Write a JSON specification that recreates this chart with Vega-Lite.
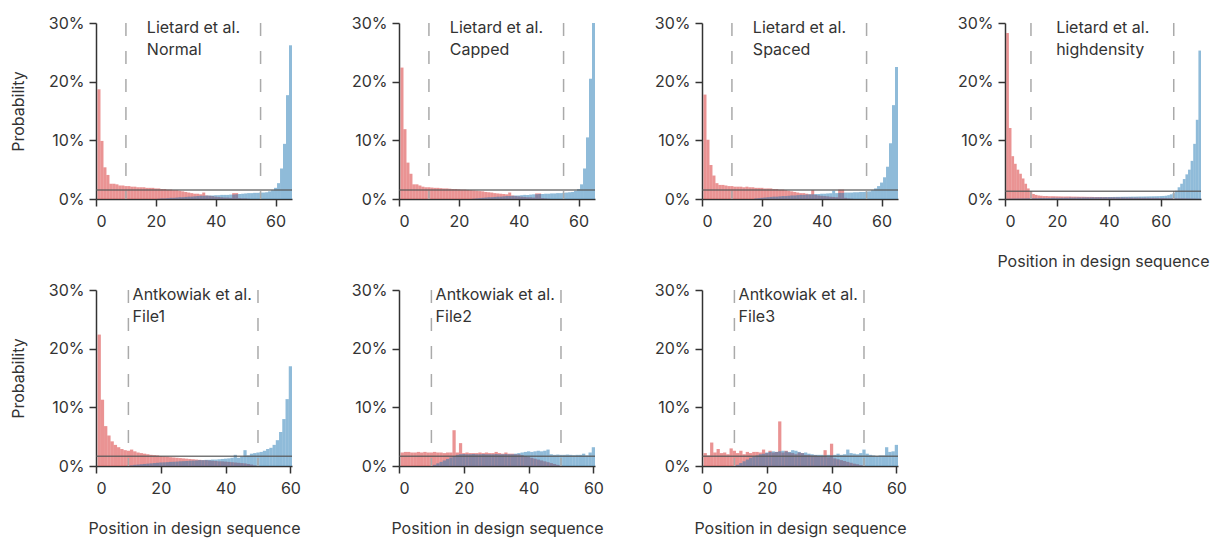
{
"$schema": "https://vega.github.io/schema/vega-lite/v6.json",
"padding": {"left": 10, "top": 15, "right": 5, "bottom": 5},
"background": "white",
"config": {"font": "Inter", "view": {"stroke": null},
 "scale": {"continuousPadding": 0},
 "axis": {"labelFont": "Inter", "titleFont": "Inter", "labelFontSize": 16, "titleFontSize": 16, "titleFontWeight": "normal", "labelColor": "#333", "titleColor": "#333", "domainColor": "#333", "tickColor": "#333", "domainWidth": 1.5, "tickWidth": 1.5, "tickSize": 7, "grid": false},
 "axisY": {"titlePadding": 22, "labelPadding": 5},
 "axisX": {"titlePadding": 24, "labelPadding": 7}},
"datasets": {"h": [
{"p":"N","x":1,"r":18.7,"b":0},{"p":"N","x":2,"r":9.9,"b":0},{"p":"N","x":3,"r":5.4,"b":0},{"p":"N","x":4,"r":4.1,"b":0},{"p":"N","x":5,"r":2.6,"b":0},{"p":"N","x":6,"r":2.6,"b":0},{"p":"N","x":7,"r":2.5,"b":0},{"p":"N","x":8,"r":2.3,"b":0},{"p":"N","x":9,"r":2.3,"b":0},{"p":"N","x":10,"r":2.2,"b":0},
{"p":"N","x":11,"r":2.2,"b":0},{"p":"N","x":12,"r":2.1,"b":0},{"p":"N","x":13,"r":2.1,"b":0},{"p":"N","x":14,"r":2.0,"b":0},{"p":"N","x":15,"r":2.0,"b":0},{"p":"N","x":16,"r":2.0,"b":0},{"p":"N","x":17,"r":1.9,"b":0},{"p":"N","x":18,"r":1.9,"b":0},{"p":"N","x":19,"r":1.9,"b":0},{"p":"N","x":20,"r":1.8,"b":0},
{"p":"N","x":21,"r":1.8,"b":0.05},{"p":"N","x":22,"r":1.7,"b":0.1},{"p":"N","x":23,"r":1.7,"b":0.1},{"p":"N","x":24,"r":1.6,"b":0.15},{"p":"N","x":25,"r":1.6,"b":0.2},{"p":"N","x":26,"r":1.5,"b":0.2},{"p":"N","x":27,"r":1.5,"b":0.25},{"p":"N","x":28,"r":1.4,"b":0.3},{"p":"N","x":29,"r":1.3,"b":0.3},{"p":"N","x":30,"r":1.2,"b":0.35},
{"p":"N","x":31,"r":1.1,"b":0.4},{"p":"N","x":32,"r":1.0,"b":0.4},{"p":"N","x":33,"r":0.9,"b":0.45},{"p":"N","x":34,"r":0.9,"b":0.5},{"p":"N","x":35,"r":0.8,"b":0.55},{"p":"N","x":36,"r":1.1,"b":0.55},{"p":"N","x":37,"r":0.6,"b":0.6},{"p":"N","x":38,"r":0.55,"b":0.6},{"p":"N","x":39,"r":0.5,"b":0.6},{"p":"N","x":40,"r":0.4,"b":0.65},
{"p":"N","x":41,"r":0.35,"b":0.65},{"p":"N","x":42,"r":0.3,"b":0.7},{"p":"N","x":43,"r":0.25,"b":0.7},{"p":"N","x":44,"r":0.25,"b":0.7},{"p":"N","x":45,"r":0.2,"b":0.75},{"p":"N","x":46,"r":1.0,"b":0.75},{"p":"N","x":47,"r":1.0,"b":0.8},{"p":"N","x":48,"r":0.15,"b":0.85},{"p":"N","x":49,"r":0.1,"b":0.9},{"p":"N","x":50,"r":0.1,"b":0.95},
{"p":"N","x":51,"r":0.05,"b":1.0},{"p":"N","x":52,"r":0,"b":1.0},{"p":"N","x":53,"r":0,"b":1.05},{"p":"N","x":54,"r":0,"b":1.05},{"p":"N","x":55,"r":0,"b":1.1},{"p":"N","x":56,"r":0,"b":1.1},{"p":"N","x":57,"r":0,"b":1.15},{"p":"N","x":58,"r":0,"b":1.3},{"p":"N","x":59,"r":0,"b":1.5},{"p":"N","x":60,"r":0,"b":1.9},
{"p":"N","x":61,"r":0,"b":2.7},{"p":"N","x":62,"r":0,"b":5.2},{"p":"N","x":63,"r":0,"b":9.4},{"p":"N","x":64,"r":0,"b":17.7},{"p":"N","x":65,"r":0,"b":26.2},

{"p":"C","x":1,"r":22.4,"b":0},{"p":"C","x":2,"r":11.9,"b":0},{"p":"C","x":3,"r":6.2,"b":0},{"p":"C","x":4,"r":4.3,"b":0},{"p":"C","x":5,"r":2.5,"b":0},{"p":"C","x":6,"r":2.5,"b":0},{"p":"C","x":7,"r":2.3,"b":0},{"p":"C","x":8,"r":2.1,"b":0},{"p":"C","x":9,"r":2.0,"b":0},{"p":"C","x":10,"r":2.0,"b":0},
{"p":"C","x":11,"r":1.95,"b":0},{"p":"C","x":12,"r":1.9,"b":0},{"p":"C","x":13,"r":1.9,"b":0},{"p":"C","x":14,"r":1.85,"b":0},{"p":"C","x":15,"r":1.8,"b":0},{"p":"C","x":16,"r":1.8,"b":0},{"p":"C","x":17,"r":1.75,"b":0},{"p":"C","x":18,"r":1.7,"b":0},{"p":"C","x":19,"r":1.7,"b":0},{"p":"C","x":20,"r":1.65,"b":0},
{"p":"C","x":21,"r":1.6,"b":0},{"p":"C","x":22,"r":1.6,"b":0},{"p":"C","x":23,"r":1.55,"b":0},{"p":"C","x":24,"r":1.5,"b":0},{"p":"C","x":25,"r":1.45,"b":0.05},{"p":"C","x":26,"r":1.4,"b":0.1},{"p":"C","x":27,"r":1.35,"b":0.15},{"p":"C","x":28,"r":1.3,"b":0.2},{"p":"C","x":29,"r":1.2,"b":0.25},{"p":"C","x":30,"r":1.15,"b":0.3},
{"p":"C","x":31,"r":1.1,"b":0.3},{"p":"C","x":32,"r":1.0,"b":0.35},{"p":"C","x":33,"r":0.95,"b":0.4},{"p":"C","x":34,"r":0.9,"b":0.4},{"p":"C","x":35,"r":0.85,"b":0.45},{"p":"C","x":36,"r":0.8,"b":0.5},{"p":"C","x":37,"r":1.1,"b":0.5},{"p":"C","x":38,"r":0.6,"b":0.55},{"p":"C","x":39,"r":0.5,"b":0.6},{"p":"C","x":40,"r":0.45,"b":0.6},
{"p":"C","x":41,"r":0.4,"b":0.65},{"p":"C","x":42,"r":0.35,"b":0.7},{"p":"C","x":43,"r":0.3,"b":0.7},{"p":"C","x":44,"r":0.3,"b":0.75},{"p":"C","x":45,"r":0.25,"b":0.8},{"p":"C","x":46,"r":0.95,"b":0.8},{"p":"C","x":47,"r":0.95,"b":0.85},{"p":"C","x":48,"r":0.15,"b":0.85},{"p":"C","x":49,"r":0.1,"b":0.9},{"p":"C","x":50,"r":0.05,"b":0.9},
{"p":"C","x":51,"r":0,"b":0.95},{"p":"C","x":52,"r":0,"b":0.95},{"p":"C","x":53,"r":0,"b":1.0},{"p":"C","x":54,"r":0,"b":1.0},{"p":"C","x":55,"r":0,"b":1.05},{"p":"C","x":56,"r":0,"b":1.1},{"p":"C","x":57,"r":0,"b":1.15},{"p":"C","x":58,"r":0,"b":1.2},{"p":"C","x":59,"r":0,"b":1.4},{"p":"C","x":60,"r":0,"b":1.7},
{"p":"C","x":61,"r":0,"b":2.5},{"p":"C","x":62,"r":0,"b":5.2},{"p":"C","x":63,"r":0,"b":10.5},{"p":"C","x":64,"r":0,"b":20.5},{"p":"C","x":65,"r":0,"b":30.0},

{"p":"S","x":1,"r":17.8,"b":0},{"p":"S","x":2,"r":10.1,"b":0},{"p":"S","x":3,"r":5.8,"b":0},{"p":"S","x":4,"r":4.0,"b":0},{"p":"S","x":5,"r":2.7,"b":0},{"p":"S","x":6,"r":2.4,"b":0},{"p":"S","x":7,"r":2.4,"b":0},{"p":"S","x":8,"r":2.3,"b":0},{"p":"S","x":9,"r":2.2,"b":0},{"p":"S","x":10,"r":2.2,"b":0},
{"p":"S","x":11,"r":2.1,"b":0},{"p":"S","x":12,"r":2.1,"b":0},{"p":"S","x":13,"r":2.1,"b":0},{"p":"S","x":14,"r":2.0,"b":0},{"p":"S","x":15,"r":2.1,"b":0},{"p":"S","x":16,"r":2.0,"b":0},{"p":"S","x":17,"r":2.0,"b":0},{"p":"S","x":18,"r":1.9,"b":0.1},{"p":"S","x":19,"r":1.9,"b":0.15},{"p":"S","x":20,"r":1.9,"b":0.2},
{"p":"S","x":21,"r":1.8,"b":0.25},{"p":"S","x":22,"r":1.8,"b":0.3},{"p":"S","x":23,"r":1.8,"b":0.35},{"p":"S","x":24,"r":1.7,"b":0.4},{"p":"S","x":25,"r":1.7,"b":0.4},{"p":"S","x":26,"r":1.6,"b":0.45},{"p":"S","x":27,"r":1.6,"b":0.5},{"p":"S","x":28,"r":1.5,"b":0.5},{"p":"S","x":29,"r":1.4,"b":0.55},{"p":"S","x":30,"r":1.3,"b":0.6},
{"p":"S","x":31,"r":1.2,"b":0.6},{"p":"S","x":32,"r":1.1,"b":0.65},{"p":"S","x":33,"r":1.0,"b":0.7},{"p":"S","x":34,"r":1.0,"b":0.7},{"p":"S","x":35,"r":0.9,"b":0.75},{"p":"S","x":36,"r":0.8,"b":0.8},{"p":"S","x":37,"r":1.5,"b":0.8},{"p":"S","x":38,"r":0.7,"b":0.85},{"p":"S","x":39,"r":0.6,"b":0.85},{"p":"S","x":40,"r":0.55,"b":0.9},
{"p":"S","x":41,"r":0.5,"b":0.9},{"p":"S","x":42,"r":0.45,"b":0.95},{"p":"S","x":43,"r":0.4,"b":1.0},{"p":"S","x":44,"r":0.35,"b":1.4},{"p":"S","x":45,"r":0.3,"b":1.0},{"p":"S","x":46,"r":1.6,"b":1.05},{"p":"S","x":47,"r":1.6,"b":1.05},{"p":"S","x":48,"r":0.2,"b":1.1},{"p":"S","x":49,"r":0.1,"b":1.1},{"p":"S","x":50,"r":0.05,"b":1.1},
{"p":"S","x":51,"r":0,"b":1.15},{"p":"S","x":52,"r":0,"b":1.15},{"p":"S","x":53,"r":0,"b":1.2},{"p":"S","x":54,"r":0,"b":1.2},{"p":"S","x":55,"r":0,"b":1.25},{"p":"S","x":56,"r":0,"b":1.3},{"p":"S","x":57,"r":0,"b":1.5},{"p":"S","x":58,"r":0,"b":1.8},{"p":"S","x":59,"r":0,"b":2.2},{"p":"S","x":60,"r":0,"b":2.8},
{"p":"S","x":61,"r":0,"b":3.7},{"p":"S","x":62,"r":0,"b":5.5},{"p":"S","x":63,"r":0,"b":9.5},{"p":"S","x":64,"r":0,"b":16.0},{"p":"S","x":65,"r":0,"b":22.5},

{"p":"H","x":1,"r":28.3,"b":0.05},{"p":"H","x":2,"r":12.1,"b":0.06},{"p":"H","x":3,"r":7.3,"b":0.07},{"p":"H","x":4,"r":6.0,"b":0.08},{"p":"H","x":5,"r":5.0,"b":0.09},{"p":"H","x":6,"r":4.3,"b":0.1},{"p":"H","x":7,"r":3.5,"b":0.1},{"p":"H","x":8,"r":2.6,"b":0.11},{"p":"H","x":9,"r":1.8,"b":0.12},{"p":"H","x":10,"r":1.2,"b":0.13},
{"p":"H","x":11,"r":0.85,"b":0.14},{"p":"H","x":12,"r":0.7,"b":0.15},{"p":"H","x":13,"r":0.6,"b":0.15},{"p":"H","x":14,"r":0.55,"b":0.16},{"p":"H","x":15,"r":0.5,"b":0.17},{"p":"H","x":16,"r":0.5,"b":0.18},{"p":"H","x":17,"r":0.48,"b":0.18},{"p":"H","x":18,"r":0.47,"b":0.19},{"p":"H","x":19,"r":0.46,"b":0.2},{"p":"H","x":20,"r":0.45,"b":0.2},
{"p":"H","x":21,"r":0.44,"b":0.21},{"p":"H","x":22,"r":0.43,"b":0.22},{"p":"H","x":23,"r":0.42,"b":0.22},{"p":"H","x":24,"r":0.42,"b":0.23},{"p":"H","x":25,"r":0.41,"b":0.24},{"p":"H","x":26,"r":0.4,"b":0.24},{"p":"H","x":27,"r":0.4,"b":0.25},{"p":"H","x":28,"r":0.39,"b":0.26},{"p":"H","x":29,"r":0.38,"b":0.26},{"p":"H","x":30,"r":0.38,"b":0.27},
{"p":"H","x":31,"r":0.37,"b":0.28},{"p":"H","x":32,"r":0.36,"b":0.28},{"p":"H","x":33,"r":0.36,"b":0.29},{"p":"H","x":34,"r":0.35,"b":0.3},{"p":"H","x":35,"r":0.34,"b":0.3},{"p":"H","x":36,"r":0.34,"b":0.31},{"p":"H","x":37,"r":0.33,"b":0.32},{"p":"H","x":38,"r":0.32,"b":0.32},{"p":"H","x":39,"r":0.32,"b":0.33},{"p":"H","x":40,"r":0.31,"b":0.34},
{"p":"H","x":41,"r":0.3,"b":0.34},{"p":"H","x":42,"r":0.3,"b":0.35},{"p":"H","x":43,"r":0.29,"b":0.36},{"p":"H","x":44,"r":0.28,"b":0.36},{"p":"H","x":45,"r":0.28,"b":0.37},{"p":"H","x":46,"r":0.27,"b":0.38},{"p":"H","x":47,"r":0.26,"b":0.38},{"p":"H","x":48,"r":0.26,"b":0.39},{"p":"H","x":49,"r":0.25,"b":0.4},{"p":"H","x":50,"r":0.24,"b":0.4},
{"p":"H","x":51,"r":0.24,"b":0.41},{"p":"H","x":52,"r":0.23,"b":0.42},{"p":"H","x":53,"r":0.22,"b":0.42},{"p":"H","x":54,"r":0.22,"b":0.43},{"p":"H","x":55,"r":0.21,"b":0.44},{"p":"H","x":56,"r":0.2,"b":0.45},{"p":"H","x":57,"r":0.2,"b":0.46},{"p":"H","x":58,"r":0.19,"b":0.47},{"p":"H","x":59,"r":0.18,"b":0.48},{"p":"H","x":60,"r":0.18,"b":0.5},
{"p":"H","x":61,"r":0.17,"b":0.52},{"p":"H","x":62,"r":0.16,"b":0.56},{"p":"H","x":63,"r":0.15,"b":0.65},{"p":"H","x":64,"r":0.15,"b":0.8},{"p":"H","x":65,"r":0.14,"b":1.0},{"p":"H","x":66,"r":0.13,"b":1.4},{"p":"H","x":67,"r":0.12,"b":2.0},{"p":"H","x":68,"r":0.11,"b":2.6},{"p":"H","x":69,"r":0.1,"b":3.4},{"p":"H","x":70,"r":0.1,"b":4.2},
{"p":"H","x":71,"r":0.09,"b":5.0},{"p":"H","x":72,"r":0.08,"b":6.5},{"p":"H","x":73,"r":0.07,"b":9.4},{"p":"H","x":74,"r":0.06,"b":13.5},{"p":"H","x":75,"r":0.05,"b":25.3},

{"p":"F1","x":1,"r":22.4,"b":0},{"p":"F1","x":2,"r":11.3,"b":0},{"p":"F1","x":3,"r":6.8,"b":0},{"p":"F1","x":4,"r":5.2,"b":0},{"p":"F1","x":5,"r":4.2,"b":0},{"p":"F1","x":6,"r":3.6,"b":0},{"p":"F1","x":7,"r":3.2,"b":0},{"p":"F1","x":8,"r":2.9,"b":0},{"p":"F1","x":9,"r":2.7,"b":0},{"p":"F1","x":10,"r":2.6,"b":0.05},
{"p":"F1","x":11,"r":2.8,"b":0.1},{"p":"F1","x":12,"r":2.5,"b":0.2},{"p":"F1","x":13,"r":2.3,"b":0.25},{"p":"F1","x":14,"r":2.2,"b":0.3},{"p":"F1","x":15,"r":2.1,"b":0.35},{"p":"F1","x":16,"r":2.0,"b":0.4},{"p":"F1","x":17,"r":1.9,"b":0.45},{"p":"F1","x":18,"r":1.85,"b":0.5},{"p":"F1","x":19,"r":1.8,"b":0.55},{"p":"F1","x":20,"r":1.7,"b":0.6},
{"p":"F1","x":21,"r":1.65,"b":0.62},{"p":"F1","x":22,"r":1.6,"b":0.65},{"p":"F1","x":23,"r":1.5,"b":0.7},{"p":"F1","x":24,"r":1.45,"b":0.72},{"p":"F1","x":25,"r":1.4,"b":0.75},{"p":"F1","x":26,"r":1.35,"b":0.8},{"p":"F1","x":27,"r":1.3,"b":0.82},{"p":"F1","x":28,"r":1.25,"b":0.85},{"p":"F1","x":29,"r":1.2,"b":0.9},{"p":"F1","x":30,"r":1.15,"b":0.92},
{"p":"F1","x":31,"r":1.1,"b":0.95},{"p":"F1","x":32,"r":1.05,"b":1.0},{"p":"F1","x":33,"r":1.0,"b":1.0},{"p":"F1","x":34,"r":1.0,"b":1.05},{"p":"F1","x":35,"r":0.95,"b":1.05},{"p":"F1","x":36,"r":0.9,"b":1.1},{"p":"F1","x":37,"r":0.85,"b":1.1},{"p":"F1","x":38,"r":0.8,"b":1.15},{"p":"F1","x":39,"r":0.8,"b":1.2},{"p":"F1","x":40,"r":0.75,"b":1.25},
{"p":"F1","x":41,"r":0.7,"b":1.3},{"p":"F1","x":42,"r":0.65,"b":1.4},{"p":"F1","x":43,"r":0.6,"b":1.9},{"p":"F1","x":44,"r":0.55,"b":1.4},{"p":"F1","x":45,"r":0.5,"b":1.6},{"p":"F1","x":46,"r":0.45,"b":2.7},{"p":"F1","x":47,"r":0.35,"b":1.8},{"p":"F1","x":48,"r":0.25,"b":2.1},{"p":"F1","x":49,"r":0.1,"b":2.2},{"p":"F1","x":50,"r":0,"b":2.3},
{"p":"F1","x":51,"r":0,"b":2.4},{"p":"F1","x":52,"r":0,"b":2.6},{"p":"F1","x":53,"r":0,"b":2.9},{"p":"F1","x":54,"r":0,"b":3.1},{"p":"F1","x":55,"r":0,"b":3.6},{"p":"F1","x":56,"r":0,"b":4.4},{"p":"F1","x":57,"r":0,"b":5.8},{"p":"F1","x":58,"r":0,"b":8.0},{"p":"F1","x":59,"r":0,"b":11.4},{"p":"F1","x":60,"r":0,"b":17.0},

{"p":"F2","x":1,"r":2.3,"b":0},{"p":"F2","x":2,"r":2.4,"b":0},{"p":"F2","x":3,"r":2.4,"b":0},{"p":"F2","x":4,"r":2.3,"b":0},{"p":"F2","x":5,"r":2.3,"b":0},{"p":"F2","x":6,"r":2.4,"b":0},{"p":"F2","x":7,"r":2.3,"b":0},{"p":"F2","x":8,"r":2.4,"b":0},{"p":"F2","x":9,"r":2.3,"b":0},{"p":"F2","x":10,"r":2.3,"b":0},
{"p":"F2","x":11,"r":2.4,"b":0.2},{"p":"F2","x":12,"r":2.3,"b":0.45},{"p":"F2","x":13,"r":2.3,"b":0.7},{"p":"F2","x":14,"r":2.2,"b":0.95},{"p":"F2","x":15,"r":2.3,"b":1.2},{"p":"F2","x":16,"r":2.3,"b":1.45},{"p":"F2","x":17,"r":6.1,"b":1.7},{"p":"F2","x":18,"r":2.3,"b":1.9},{"p":"F2","x":19,"r":3.9,"b":2.0},{"p":"F2","x":20,"r":2.2,"b":2.05},
{"p":"F2","x":21,"r":2.3,"b":2.0},{"p":"F2","x":22,"r":2.2,"b":2.0},{"p":"F2","x":23,"r":2.2,"b":2.05},{"p":"F2","x":24,"r":2.2,"b":2.0},{"p":"F2","x":25,"r":2.3,"b":2.0},{"p":"F2","x":26,"r":2.2,"b":2.05},{"p":"F2","x":27,"r":2.3,"b":2.0},{"p":"F2","x":28,"r":2.2,"b":2.0},{"p":"F2","x":29,"r":2.2,"b":2.0},{"p":"F2","x":30,"r":2.4,"b":2.05},
{"p":"F2","x":31,"r":2.2,"b":2.0},{"p":"F2","x":32,"r":2.1,"b":2.0},{"p":"F2","x":33,"r":2.3,"b":2.05},{"p":"F2","x":34,"r":2.1,"b":2.0},{"p":"F2","x":35,"r":2.1,"b":2.0},{"p":"F2","x":36,"r":2.0,"b":2.1},{"p":"F2","x":37,"r":2.0,"b":2.2},{"p":"F2","x":38,"r":1.85,"b":2.3},{"p":"F2","x":39,"r":1.7,"b":2.4},{"p":"F2","x":40,"r":1.55,"b":2.5},
{"p":"F2","x":41,"r":1.4,"b":2.4},{"p":"F2","x":42,"r":1.25,"b":2.5},{"p":"F2","x":43,"r":1.1,"b":2.6},{"p":"F2","x":44,"r":0.95,"b":2.5},{"p":"F2","x":45,"r":0.8,"b":2.6},{"p":"F2","x":46,"r":0.65,"b":2.8},{"p":"F2","x":47,"r":0.5,"b":2.0},{"p":"F2","x":48,"r":0.35,"b":1.9},{"p":"F2","x":49,"r":0.2,"b":1.95},{"p":"F2","x":50,"r":0.05,"b":1.9},
{"p":"F2","x":51,"r":0,"b":1.9},{"p":"F2","x":52,"r":0,"b":1.95},{"p":"F2","x":53,"r":0,"b":1.9},{"p":"F2","x":54,"r":0,"b":1.85},{"p":"F2","x":55,"r":0,"b":1.9},{"p":"F2","x":56,"r":0,"b":1.9},{"p":"F2","x":57,"r":0,"b":2.1},{"p":"F2","x":58,"r":0,"b":1.8},{"p":"F2","x":59,"r":0,"b":2.3},{"p":"F2","x":60,"r":0,"b":3.2},

{"p":"F3","x":1,"r":2.2,"b":0},{"p":"F3","x":2,"r":1.8,"b":0},{"p":"F3","x":3,"r":4.0,"b":0},{"p":"F3","x":4,"r":2.3,"b":0},{"p":"F3","x":5,"r":2.9,"b":0},{"p":"F3","x":6,"r":2.2,"b":0},{"p":"F3","x":7,"r":2.3,"b":0},{"p":"F3","x":8,"r":2.0,"b":0},{"p":"F3","x":9,"r":3.0,"b":0},{"p":"F3","x":10,"r":2.6,"b":0},
{"p":"F3","x":11,"r":2.2,"b":0.2},{"p":"F3","x":12,"r":2.6,"b":0.5},{"p":"F3","x":13,"r":2.0,"b":0.8},{"p":"F3","x":14,"r":2.4,"b":1.1},{"p":"F3","x":15,"r":2.2,"b":1.4},{"p":"F3","x":16,"r":2.4,"b":1.6},{"p":"F3","x":17,"r":2.4,"b":1.8},{"p":"F3","x":18,"r":2.3,"b":2.0},{"p":"F3","x":19,"r":2.8,"b":2.1},{"p":"F3","x":20,"r":2.2,"b":2.3},
{"p":"F3","x":21,"r":2.6,"b":2.4},{"p":"F3","x":22,"r":2.3,"b":2.5},{"p":"F3","x":23,"r":2.4,"b":2.4},{"p":"F3","x":24,"r":7.6,"b":2.5},{"p":"F3","x":25,"r":2.3,"b":2.6},{"p":"F3","x":26,"r":2.6,"b":2.5},{"p":"F3","x":27,"r":2.3,"b":2.4},{"p":"F3","x":28,"r":2.2,"b":2.7},{"p":"F3","x":29,"r":2.0,"b":2.6},{"p":"F3","x":30,"r":2.3,"b":2.4},
{"p":"F3","x":31,"r":2.2,"b":2.2},{"p":"F3","x":32,"r":1.9,"b":2.3},{"p":"F3","x":33,"r":1.9,"b":2.1},{"p":"F3","x":34,"r":1.8,"b":2.0},{"p":"F3","x":35,"r":1.8,"b":1.9},{"p":"F3","x":36,"r":1.7,"b":1.9},{"p":"F3","x":37,"r":1.7,"b":1.9},{"p":"F3","x":38,"r":2.7,"b":1.8},{"p":"F3","x":39,"r":1.5,"b":1.9},{"p":"F3","x":40,"r":3.8,"b":1.8},
{"p":"F3","x":41,"r":1.3,"b":1.9},{"p":"F3","x":42,"r":1.15,"b":2.1},{"p":"F3","x":43,"r":1.0,"b":1.9},{"p":"F3","x":44,"r":0.85,"b":2.0},{"p":"F3","x":45,"r":0.7,"b":2.8},{"p":"F3","x":46,"r":0.55,"b":2.2},{"p":"F3","x":47,"r":0.4,"b":2.1},{"p":"F3","x":48,"r":0.3,"b":2.0},{"p":"F3","x":49,"r":0.15,"b":2.2},{"p":"F3","x":50,"r":0.05,"b":2.8},
{"p":"F3","x":51,"r":0,"b":2.1},{"p":"F3","x":52,"r":0,"b":1.9},{"p":"F3","x":53,"r":0,"b":1.8},{"p":"F3","x":54,"r":0,"b":1.7},{"p":"F3","x":55,"r":0,"b":1.8},{"p":"F3","x":56,"r":0,"b":1.8},{"p":"F3","x":57,"r":0,"b":3.2},{"p":"F3","x":58,"r":0,"b":2.4},{"p":"F3","x":59,"r":0,"b":2.5},{"p":"F3","x":60,"r":0,"b":3.6}
]},
"columns": 4,
"bounds": "flush",
"spacing": {"row": 91, "column": 107},
"concat": [
{"width": 196, "height": 176, "layer": [
 {"data": {"name": "h"}, "transform": [{"filter": "datum.p === 'N'"}, {"fold": ["r", "b"], "as": ["s", "v"]}],
  "mark": {"type": "bar", "size": 2.99, "opacity": 0.5},
  "encoding": {
   "x": {"field": "x", "type": "quantitative", "scale": {"domain": [0, 65.5], "nice": false, "zero": false, "padding": 0}, "axis": {"values": [0,5,10,15,20,25,30,35,40,45,50,55,60,65], "labelExpr": "datum.value % 20 === 0 ? datum.label : ''", "title": null}},
   "y": {"field": "v", "type": "quantitative", "stack": null, "scale": {"domain": [0, 30], "nice": false, "padding": 0}, "axis": {"values": [0,5,10,15,20,25,30], "labelExpr": "datum.value % 10 === 0 ? datum.value + '%' : ''", "title": "Probability"}},
   "color": {"field": "s", "type": "nominal", "scale": {"domain": ["r", "b"], "range": ["#d62728", "#1f77b4"]}, "legend": null}}},
 {"data": {"values": [{"x": 10}, {"x": 55}]}, "mark": {"type": "rule", "color": "#aaa", "strokeWidth": 1.5, "strokeDash": [13, 15]}, "encoding": {"x": {"field": "x", "type": "quantitative"}}},
 {"data": {"values": [{"v": 1.54}]}, "mark": {"type": "rule", "color": "#555", "strokeWidth": 1.5, "opacity": 0.8}, "encoding": {"y": {"field": "v", "type": "quantitative"}}},
 {"data": {"values": [{"t": "Lietard et al.\nNormal"}]}, "mark": {"type": "text", "align": "left", "baseline": "alphabetic", "fontSize": 16, "lineHeight": 22, "lineBreak": "\n", "color": "#333"}, "encoding": {"x": {"datum": 17}, "y": {"datum": 28.3}, "text": {"field": "t"}}}
]},
{"width": 196, "height": 176, "layer": [
 {"data": {"name": "h"}, "transform": [{"filter": "datum.p === 'C'"}, {"fold": ["r", "b"], "as": ["s", "v"]}],
  "mark": {"type": "bar", "size": 2.99, "opacity": 0.5},
  "encoding": {
   "x": {"field": "x", "type": "quantitative", "scale": {"domain": [0, 65.5], "nice": false, "zero": false, "padding": 0}, "axis": {"values": [0,5,10,15,20,25,30,35,40,45,50,55,60,65], "labelExpr": "datum.value % 20 === 0 ? datum.label : ''", "title": null}},
   "y": {"field": "v", "type": "quantitative", "stack": null, "scale": {"domain": [0, 30], "nice": false, "padding": 0}, "axis": {"values": [0,5,10,15,20,25,30], "labelExpr": "datum.value % 10 === 0 ? datum.value + '%' : ''", "title": null}},
   "color": {"field": "s", "type": "nominal", "scale": {"domain": ["r", "b"], "range": ["#d62728", "#1f77b4"]}, "legend": null}}},
 {"data": {"values": [{"x": 10}, {"x": 55}]}, "mark": {"type": "rule", "color": "#aaa", "strokeWidth": 1.5, "strokeDash": [13, 15]}, "encoding": {"x": {"field": "x", "type": "quantitative"}}},
 {"data": {"values": [{"v": 1.54}]}, "mark": {"type": "rule", "color": "#555", "strokeWidth": 1.5, "opacity": 0.8}, "encoding": {"y": {"field": "v", "type": "quantitative"}}},
 {"data": {"values": [{"t": "Lietard et al.\nCapped"}]}, "mark": {"type": "text", "align": "left", "baseline": "alphabetic", "fontSize": 16, "lineHeight": 22, "lineBreak": "\n", "color": "#333"}, "encoding": {"x": {"datum": 17}, "y": {"datum": 28.3}, "text": {"field": "t"}}}
]},
{"width": 196, "height": 176, "layer": [
 {"data": {"name": "h"}, "transform": [{"filter": "datum.p === 'S'"}, {"fold": ["r", "b"], "as": ["s", "v"]}],
  "mark": {"type": "bar", "size": 2.99, "opacity": 0.5},
  "encoding": {
   "x": {"field": "x", "type": "quantitative", "scale": {"domain": [0, 65.5], "nice": false, "zero": false, "padding": 0}, "axis": {"values": [0,5,10,15,20,25,30,35,40,45,50,55,60,65], "labelExpr": "datum.value % 20 === 0 ? datum.label : ''", "title": null}},
   "y": {"field": "v", "type": "quantitative", "stack": null, "scale": {"domain": [0, 30], "nice": false, "padding": 0}, "axis": {"values": [0,5,10,15,20,25,30], "labelExpr": "datum.value % 10 === 0 ? datum.value + '%' : ''", "title": null}},
   "color": {"field": "s", "type": "nominal", "scale": {"domain": ["r", "b"], "range": ["#d62728", "#1f77b4"]}, "legend": null}}},
 {"data": {"values": [{"x": 10}, {"x": 55}]}, "mark": {"type": "rule", "color": "#aaa", "strokeWidth": 1.5, "strokeDash": [13, 15]}, "encoding": {"x": {"field": "x", "type": "quantitative"}}},
 {"data": {"values": [{"v": 1.54}]}, "mark": {"type": "rule", "color": "#555", "strokeWidth": 1.5, "opacity": 0.8}, "encoding": {"y": {"field": "v", "type": "quantitative"}}},
 {"data": {"values": [{"t": "Lietard et al.\nSpaced"}]}, "mark": {"type": "text", "align": "left", "baseline": "alphabetic", "fontSize": 16, "lineHeight": 22, "lineBreak": "\n", "color": "#333"}, "encoding": {"x": {"datum": 17}, "y": {"datum": 28.3}, "text": {"field": "t"}}}
]},
{"width": 196, "height": 176, "layer": [
 {"data": {"name": "h"}, "transform": [{"filter": "datum.p === 'H'"}, {"fold": ["r", "b"], "as": ["s", "v"]}],
  "mark": {"type": "bar", "size": 2.58, "opacity": 0.5},
  "encoding": {
   "x": {"field": "x", "type": "quantitative", "scale": {"domain": [0, 75.5], "nice": false, "zero": false, "padding": 0}, "axis": {"values": [0,5,10,15,20,25,30,35,40,45,50,55,60,65,70,75], "labelExpr": "datum.value % 20 === 0 ? datum.label : ''", "title": "Position in design sequence"}},
   "y": {"field": "v", "type": "quantitative", "stack": null, "scale": {"domain": [0, 30], "nice": false, "padding": 0}, "axis": {"values": [0,5,10,15,20,25,30], "labelExpr": "datum.value % 10 === 0 ? datum.value + '%' : ''", "title": null}},
   "color": {"field": "s", "type": "nominal", "scale": {"domain": ["r", "b"], "range": ["#d62728", "#1f77b4"]}, "legend": null}}},
 {"data": {"values": [{"x": 10}, {"x": 65}]}, "mark": {"type": "rule", "color": "#aaa", "strokeWidth": 1.5, "strokeDash": [13, 15]}, "encoding": {"x": {"field": "x", "type": "quantitative"}}},
 {"data": {"values": [{"v": 1.33}]}, "mark": {"type": "rule", "color": "#555", "strokeWidth": 1.5, "opacity": 0.8}, "encoding": {"y": {"field": "v", "type": "quantitative"}}},
 {"data": {"values": [{"t": "Lietard et al.\nhighdensity"}]}, "mark": {"type": "text", "align": "left", "baseline": "alphabetic", "fontSize": 16, "lineHeight": 22, "lineBreak": "\n", "color": "#333"}, "encoding": {"x": {"datum": 19.7}, "y": {"datum": 28.3}, "text": {"field": "t"}}}
]},
{"width": 196, "height": 176, "layer": [
 {"data": {"name": "h"}, "transform": [{"filter": "datum.p === 'F1'"}, {"fold": ["r", "b"], "as": ["s", "v"]}],
  "mark": {"type": "bar", "size": 3.24, "opacity": 0.5},
  "encoding": {
   "x": {"field": "x", "type": "quantitative", "scale": {"domain": [0, 60.5], "nice": false, "zero": false, "padding": 0}, "axis": {"values": [0,5,10,15,20,25,30,35,40,45,50,55,60], "labelExpr": "datum.value % 20 === 0 ? datum.label : ''", "title": "Position in design sequence"}},
   "y": {"field": "v", "type": "quantitative", "stack": null, "scale": {"domain": [0, 30], "nice": false, "padding": 0}, "axis": {"values": [0,5,10,15,20,25,30], "labelExpr": "datum.value % 10 === 0 ? datum.value + '%' : ''", "title": "Probability"}},
   "color": {"field": "s", "type": "nominal", "scale": {"domain": ["r", "b"], "range": ["#d62728", "#1f77b4"]}, "legend": null}}},
 {"data": {"values": [{"x": 10}, {"x": 50}]}, "mark": {"type": "rule", "color": "#aaa", "strokeWidth": 1.5, "strokeDash": [13, 15]}, "encoding": {"x": {"field": "x", "type": "quantitative"}}},
 {"data": {"values": [{"v": 1.67}]}, "mark": {"type": "rule", "color": "#555", "strokeWidth": 1.5, "opacity": 0.8}, "encoding": {"y": {"field": "v", "type": "quantitative"}}},
 {"data": {"values": [{"t": "Antkowiak et al.\nFile1"}]}, "mark": {"type": "text", "align": "left", "baseline": "alphabetic", "fontSize": 16, "lineHeight": 22, "lineBreak": "\n", "color": "#333"}, "encoding": {"x": {"datum": 11.3}, "y": {"datum": 28.3}, "text": {"field": "t"}}}
]},
{"width": 196, "height": 176, "layer": [
 {"data": {"name": "h"}, "transform": [{"filter": "datum.p === 'F2'"}, {"fold": ["r", "b"], "as": ["s", "v"]}],
  "mark": {"type": "bar", "size": 3.24, "opacity": 0.5},
  "encoding": {
   "x": {"field": "x", "type": "quantitative", "scale": {"domain": [0, 60.5], "nice": false, "zero": false, "padding": 0}, "axis": {"values": [0,5,10,15,20,25,30,35,40,45,50,55,60], "labelExpr": "datum.value % 20 === 0 ? datum.label : ''", "title": "Position in design sequence"}},
   "y": {"field": "v", "type": "quantitative", "stack": null, "scale": {"domain": [0, 30], "nice": false, "padding": 0}, "axis": {"values": [0,5,10,15,20,25,30], "labelExpr": "datum.value % 10 === 0 ? datum.value + '%' : ''", "title": null}},
   "color": {"field": "s", "type": "nominal", "scale": {"domain": ["r", "b"], "range": ["#d62728", "#1f77b4"]}, "legend": null}}},
 {"data": {"values": [{"x": 10}, {"x": 50}]}, "mark": {"type": "rule", "color": "#aaa", "strokeWidth": 1.5, "strokeDash": [13, 15]}, "encoding": {"x": {"field": "x", "type": "quantitative"}}},
 {"data": {"values": [{"v": 1.67}]}, "mark": {"type": "rule", "color": "#555", "strokeWidth": 1.5, "opacity": 0.8}, "encoding": {"y": {"field": "v", "type": "quantitative"}}},
 {"data": {"values": [{"t": "Antkowiak et al.\nFile2"}]}, "mark": {"type": "text", "align": "left", "baseline": "alphabetic", "fontSize": 16, "lineHeight": 22, "lineBreak": "\n", "color": "#333"}, "encoding": {"x": {"datum": 11.3}, "y": {"datum": 28.3}, "text": {"field": "t"}}}
]},
{"width": 196, "height": 176, "layer": [
 {"data": {"name": "h"}, "transform": [{"filter": "datum.p === 'F3'"}, {"fold": ["r", "b"], "as": ["s", "v"]}],
  "mark": {"type": "bar", "size": 3.24, "opacity": 0.5},
  "encoding": {
   "x": {"field": "x", "type": "quantitative", "scale": {"domain": [0, 60.5], "nice": false, "zero": false, "padding": 0}, "axis": {"values": [0,5,10,15,20,25,30,35,40,45,50,55,60], "labelExpr": "datum.value % 20 === 0 ? datum.label : ''", "title": "Position in design sequence"}},
   "y": {"field": "v", "type": "quantitative", "stack": null, "scale": {"domain": [0, 30], "nice": false, "padding": 0}, "axis": {"values": [0,5,10,15,20,25,30], "labelExpr": "datum.value % 10 === 0 ? datum.value + '%' : ''", "title": null}},
   "color": {"field": "s", "type": "nominal", "scale": {"domain": ["r", "b"], "range": ["#d62728", "#1f77b4"]}, "legend": null}}},
 {"data": {"values": [{"x": 10}, {"x": 50}]}, "mark": {"type": "rule", "color": "#aaa", "strokeWidth": 1.5, "strokeDash": [13, 15]}, "encoding": {"x": {"field": "x", "type": "quantitative"}}},
 {"data": {"values": [{"v": 1.67}]}, "mark": {"type": "rule", "color": "#555", "strokeWidth": 1.5, "opacity": 0.8}, "encoding": {"y": {"field": "v", "type": "quantitative"}}},
 {"data": {"values": [{"t": "Antkowiak et al.\nFile3"}]}, "mark": {"type": "text", "align": "left", "baseline": "alphabetic", "fontSize": 16, "lineHeight": 22, "lineBreak": "\n", "color": "#333"}, "encoding": {"x": {"datum": 11.3}, "y": {"datum": 28.3}, "text": {"field": "t"}}}
]}
]
}
